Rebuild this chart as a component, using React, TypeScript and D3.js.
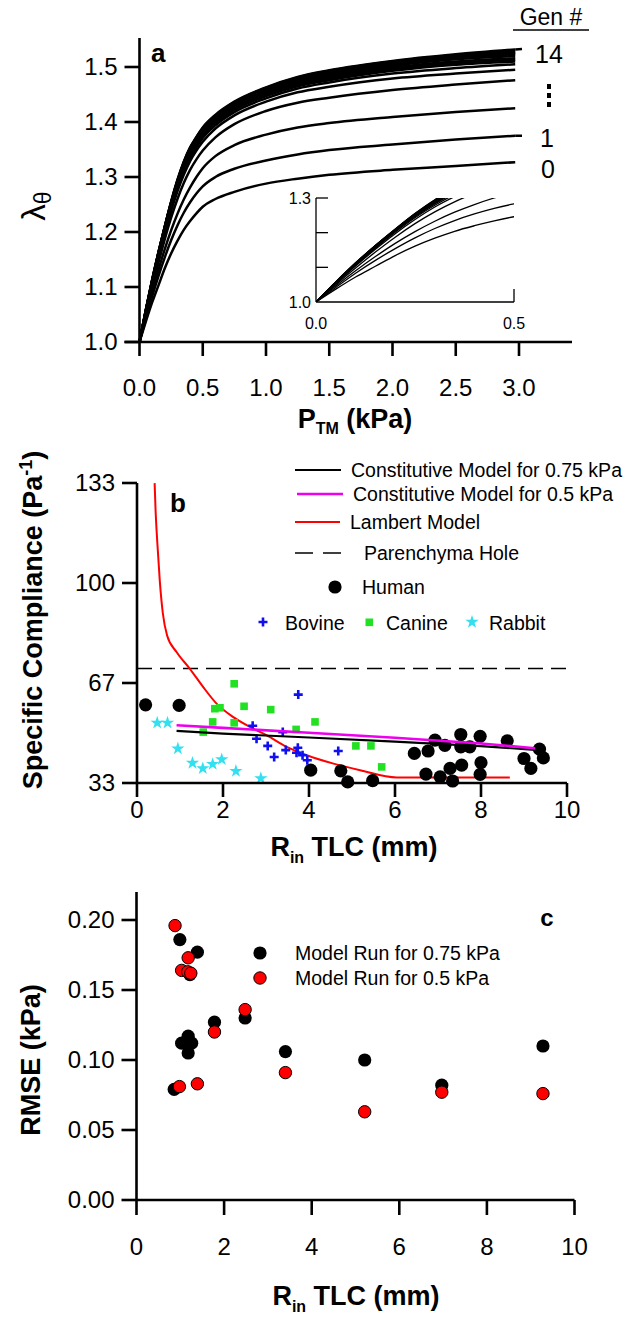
import React from 'react';
import * as d3 from 'd3';

const FONT = '"Liberation Sans", Arial, Helvetica, sans-serif';

// ---------- Panel a : lambda_theta vs P_TM for generations 0..14 ----------
const A_PTM = [0, 0.05, 0.1, 0.15, 0.2, 0.25, 0.3, 0.35, 0.4, 0.45, 0.5, 0.6, 0.75, 1.0, 1.25, 1.5, 2.0, 2.5, 2.97];
const GEN_0 = [1, 1.037, 1.072, 1.103, 1.134, 1.161, 1.184, 1.204, 1.22, 1.234, 1.246, 1.26, 1.273, 1.288, 1.297, 1.304, 1.313, 1.32, 1.327];
const GEN_1 = [1, 1.042, 1.083, 1.12, 1.154, 1.185, 1.212, 1.235, 1.254, 1.27, 1.283, 1.3, 1.315, 1.33, 1.341, 1.349, 1.359, 1.368, 1.375];
const GEN_2 = [1, 1.046, 1.09, 1.131, 1.169, 1.203, 1.233, 1.259, 1.281, 1.3, 1.316, 1.338, 1.358, 1.377, 1.39, 1.398, 1.409, 1.418, 1.425];
const GEN_3 = [1, 1.05, 1.098, 1.144, 1.187, 1.226, 1.26, 1.289, 1.313, 1.332, 1.348, 1.372, 1.396, 1.42, 1.435, 1.444, 1.458, 1.468, 1.476];
const GEN_4 = [1, 1.053, 1.104, 1.152, 1.197, 1.238, 1.274, 1.304, 1.329, 1.348, 1.364, 1.388, 1.412, 1.437, 1.454, 1.464, 1.479, 1.488, 1.495];
const GEN_5 = [1, 1.054, 1.106, 1.155, 1.201, 1.243, 1.279, 1.31, 1.335, 1.354, 1.371, 1.394, 1.418, 1.443, 1.461, 1.472, 1.488, 1.498, 1.505];
const GEN_6 = [1, 1.055, 1.108, 1.157, 1.204, 1.246, 1.283, 1.314, 1.339, 1.358, 1.375, 1.398, 1.422, 1.447, 1.465, 1.476, 1.493, 1.504, 1.51];
const GEN_7 = [1, 1.056, 1.109, 1.159, 1.206, 1.248, 1.285, 1.317, 1.342, 1.361, 1.378, 1.401, 1.425, 1.45, 1.468, 1.479, 1.496, 1.507, 1.513];
const GEN_8 = [1, 1.056, 1.11, 1.16, 1.207, 1.25, 1.287, 1.319, 1.345, 1.364, 1.381, 1.404, 1.428, 1.453, 1.471, 1.482, 1.499, 1.51, 1.516];
const GEN_9 = [1, 1.057, 1.111, 1.161, 1.208, 1.251, 1.289, 1.321, 1.347, 1.366, 1.383, 1.406, 1.43, 1.456, 1.474, 1.485, 1.502, 1.514, 1.52];
const GEN_10 = [1, 1.057, 1.111, 1.162, 1.209, 1.252, 1.291, 1.323, 1.349, 1.368, 1.385, 1.408, 1.432, 1.458, 1.477, 1.488, 1.505, 1.517, 1.523];
const GEN_11 = [1, 1.057, 1.112, 1.162, 1.209, 1.253, 1.292, 1.325, 1.351, 1.37, 1.387, 1.41, 1.434, 1.46, 1.479, 1.49, 1.507, 1.519, 1.525];
const GEN_12 = [1, 1.058, 1.112, 1.163, 1.21, 1.254, 1.293, 1.326, 1.352, 1.371, 1.388, 1.411, 1.435, 1.461, 1.48, 1.492, 1.509, 1.521, 1.527];
const GEN_13 = [1, 1.058, 1.113, 1.163, 1.21, 1.255, 1.294, 1.327, 1.353, 1.372, 1.389, 1.412, 1.436, 1.462, 1.481, 1.493, 1.51, 1.522, 1.529];
const GEN_14 = [1, 1.058, 1.113, 1.163, 1.21, 1.255, 1.295, 1.328, 1.354, 1.373, 1.39, 1.413, 1.437, 1.463, 1.482, 1.494, 1.511, 1.523, 1.532];
const GEN_CURVES = [GEN_0, GEN_1, GEN_2, GEN_3, GEN_4, GEN_5, GEN_6, GEN_7, GEN_8, GEN_9, GEN_10, GEN_11, GEN_12, GEN_13, GEN_14];
const A_X_TICKS = [0, 0.5, 1.0, 1.5, 2.0, 2.5, 3.0];
const A_Y_TICKS = [1.0, 1.1, 1.2, 1.3, 1.4, 1.5];
const INSET_Y_TICKS = [1.1, 1.2, 1.3];

// ---------- Panel b : specific compliance vs R_in TLC ----------
const LAMBERT_R = [0.41, 0.43, 0.47, 0.53, 0.6, 0.7, 0.92, 1.23, 1.54, 1.85, 2.24, 2.63, 3.02, 3.48, 3.95, 4.57, 5.19, 6.04, 8.67];
const LAMBERT_V = [133.3, 125, 114, 100.7, 90, 82.5, 77, 71.4, 65.3, 59.8, 55.3, 52, 49.2, 45.4, 42.6, 39.8, 37.6, 35.2, 35.2];
const CM075_R = [0.92, 2, 4, 6, 8, 9.26];
const CM075_V = [50.7, 49.8, 48.5, 47.1, 45.6, 44.4];
const CM05_R = [0.92, 2, 4, 6, 8, 9.26];
const CM05_V = [52.6, 51.7, 50.1, 48.4, 46.5, 44.9];
const HOLE_V = 71.5;
const HUMAN: [number, number][] = [
  [0.2, 59.4], [0.98, 59.2], [4.04, 37.6], [4.74, 37.4], [4.9, 33.7], [5.48, 34.1], [6.45, 43.2], [6.77, 44.0],
  [6.93, 47.6], [7.16, 45.9], [6.72, 36.3], [7.05, 35.4], [7.28, 38.2], [7.34, 34.0], [7.53, 49.5], [7.53, 45.4],
  [7.55, 39.3], [7.74, 45.4], [7.98, 48.9], [8.0, 40.1], [7.98, 36.2], [8.61, 47.4], [9.0, 41.5], [9.16, 38.2],
  [9.36, 44.6], [9.45, 41.7]
];
const BOVINE: [number, number][] = [
  [3.75, 62.8], [2.69, 52.4], [2.78, 48.1], [3.04, 45.7], [3.19, 42.0], [3.39, 50.3], [3.46, 44.3], [3.71, 43.4],
  [3.74, 45.1], [3.85, 42.6], [3.96, 40.9], [4.68, 44.0]
];
const CANINE: [number, number][] = [
  [2.26, 66.4], [1.81, 58.1], [1.93, 58.4], [2.49, 58.9], [3.11, 57.8], [1.76, 53.7], [2.26, 53.4], [1.54, 50.3],
  [3.7, 51.2], [4.14, 53.7], [5.09, 45.7], [5.44, 45.7], [5.69, 38.7]
];
const RABBIT: [number, number][] = [
  [0.47, 53.4], [0.71, 53.4], [0.95, 44.8], [1.29, 40.0], [1.53, 38.2], [1.76, 39.6], [1.97, 41.2], [2.3, 37.3], [2.88, 34.9]
];
const B_X_TICKS = [0, 2, 4, 6, 8, 10];
const B_Y_TICKS = [100 / 3, 200 / 3, 100, 400 / 3];
const B_Y_LABELS = ['33', '67', '100', '133'];

// ---------- Panel c : RMSE vs R_in TLC ----------
const RUN075: [number, number][] = [
  [0.86, 0.079], [0.99, 0.186], [1.39, 0.177], [1.22, 0.161], [1.03, 0.112], [1.18, 0.117], [1.26, 0.112], [1.18, 0.105],
  [1.78, 0.127], [2.48, 0.13], [3.4, 0.106], [5.21, 0.1], [6.97, 0.082], [9.28, 0.11]
];
const RUN05: [number, number][] = [
  [0.88, 0.196], [1.18, 0.173], [1.03, 0.164], [1.17, 0.163], [1.24, 0.162], [0.98, 0.081], [1.39, 0.083],
  [1.78, 0.12], [2.48, 0.136], [3.4, 0.091], [5.21, 0.063], [6.97, 0.077], [9.28, 0.076]
];
const C_X_TICKS = [0, 2, 4, 6, 8, 10];
const C_Y_TICKS = [0, 0.05, 0.1, 0.15, 0.2];

const TICK_FS = 24;
const LEG_FS = 19.5;
const AX_W = 2.6;

export default function App() {
  // ---- scales panel a
  const xA = d3.scaleLinear().domain([0, 3]).range([139.5, 519]);
  const yA = d3.scaleLinear().domain([1, 1.5]).range([342, 67]);
  const lineA = d3.line<[number, number]>().x(d => xA(d[0])).y(d => yA(d[1])).curve(d3.curveMonotoneX);
  const xI = d3.scaleLinear().domain([0, 0.5]).range([316, 514]);
  const yI = d3.scaleLinear().domain([1, 1.3]).range([302, 198]);
  const lineI = d3.line<[number, number]>().x(d => xI(d[0])).y(d => yI(d[1])).curve(d3.curveMonotoneX);

  // ---- scales panel b
  const xB = d3.scaleLinear().domain([0, 10]).range([137, 567]);
  const yB = d3.scaleLinear().domain([100 / 3, 400 / 3]).range([783, 483]);
  const lineB = d3.line<[number, number]>().x(d => xB(d[0])).y(d => yB(d[1]));
  const lineBc = d3.line<[number, number]>().x(d => xB(d[0])).y(d => yB(d[1])).curve(d3.curveMonotoneX);
  const star = d3.symbol().type(d3.symbolStar).size(55)();

  // ---- scales panel c
  const xC = d3.scaleLinear().domain([0, 10]).range([136.5, 574.5]);
  const yC = d3.scaleLinear().domain([0, 0.2]).range([1200, 920]);

  const zip = (a: number[], b: number[]) => a.map((v, i) => [v, b[i]] as [number, number]);
  const plus = (x: number, y: number, s: number) => `M${x - s},${y}H${x + s}M${x},${y - s}V${y + s}`;

  return (
    <svg width={630} height={1323} viewBox="0 0 630 1323"
      style={{ position: 'absolute', left: 0, top: 0, background: '#fff', fontFamily: FONT }}>
      <rect x={0} y={0} width={630} height={1323} fill="#fff" />

      {/* ================= Panel a ================= */}
      <g>
        <defs>
          <clipPath id="insetClip">
            <rect x={xI(0)} y={yI(1.3)} width={xI(0.5) - xI(0)} height={yI(1) - yI(1.3)} />
          </clipPath>
        </defs>
        {GEN_CURVES.map((g, i) => (
          <path key={i} d={lineA(zip(A_PTM, g)) || ''} fill="none" stroke="#000" strokeWidth={2.5} />
        ))}
        {/* leader dashes */}
        <line x1={xA(2.97)} x2={522} y1={yA(GEN_14[18])} y2={yA(GEN_14[18]) - 0.5} stroke="#000" strokeWidth={2.5} />
        <line x1={xA(2.97)} x2={522} y1={yA(GEN_1[18])} y2={yA(GEN_1[18])} stroke="#000" strokeWidth={2.5} />
        {/* axes */}
        <line x1={xA(0)} x2={xA(0)} y1={38} y2={yA(1)} stroke="#000" strokeWidth={AX_W} />
        <line x1={xA(0) - 15} x2={572} y1={yA(1)} y2={yA(1)} stroke="#000" strokeWidth={AX_W} />
        {A_Y_TICKS.map(t => (
          <g key={t}>
            <line x1={xA(0) - 15} x2={xA(0)} y1={yA(t)} y2={yA(t)} stroke="#000" strokeWidth={AX_W} />
            <text x={xA(0) - 22} y={yA(t)} dy="0.35em" textAnchor="end" fontSize={TICK_FS}>{t.toFixed(1)}</text>
          </g>
        ))}
        {A_X_TICKS.map(t => (
          <g key={t}>
            <line x1={xA(t)} x2={xA(t)} y1={yA(1)} y2={yA(1) + 14} stroke="#000" strokeWidth={AX_W} />
            <text x={xA(t)} y={396} textAnchor="middle" fontSize={TICK_FS}>{t.toFixed(1)}</text>
          </g>
        ))}
        <text x={355} y={428} textAnchor="middle" fontSize={27} fontWeight="bold">
          <tspan>P</tspan><tspan fontSize={16} dy={6}>TM</tspan><tspan dy={-6}> (kPa)</tspan>
        </text>
        <text transform="translate(45,206) rotate(-90)" textAnchor="middle" fontSize={33}>
          <tspan>λ</tspan><tspan fontSize={23} dy={6}>θ</tspan>
        </text>
        <text x={151} y={62} fontSize={26} fontWeight="bold">a</text>
        {/* generation labels */}
        <text x={551} y={25} textAnchor="middle" fontSize={23}>Gen #</text>
        <line x1={513} x2={589} y1={30} y2={30} stroke="#000" strokeWidth={1.5} />
        <text x={549} y={63} textAnchor="middle" fontSize={25}>14</text>
        {[84, 93, 102].map(y => <rect key={y} x={547} y={y} width={4} height={5} fill="#000" />)}
        <text x={547} y={147} textAnchor="middle" fontSize={25}>1</text>
        <text x={548} y={178} textAnchor="middle" fontSize={25}>0</text>

        {/* inset */}
        <g clipPath="url(#insetClip)">
          {GEN_CURVES.map((g, i) => (
            <path key={i} d={lineI(zip(A_PTM, g).filter(d => d[0] <= 0.6)) || ''} fill="none" stroke="#000" strokeWidth={1.3} />
          ))}
        </g>
        <line x1={xI(0)} x2={xI(0)} y1={yI(1.3)} y2={yI(1)} stroke="#000" strokeWidth={1.3} />
        <line x1={xI(0)} x2={xI(0.5)} y1={yI(1)} y2={yI(1)} stroke="#000" strokeWidth={1.3} />
        {INSET_Y_TICKS.map(t => (
          <line key={t} x1={xI(0)} x2={xI(0) + 12} y1={yI(t)} y2={yI(t)} stroke="#000" strokeWidth={1.3} />
        ))}
        <line x1={xI(0.5)} x2={xI(0.5)} y1={yI(1)} y2={yI(1) - 13} stroke="#000" strokeWidth={1.3} />
        <text x={xI(0) - 5} y={yI(1.3)} dy="0.35em" textAnchor="end" fontSize={16}>1.3</text>
        <text x={xI(0) - 5} y={yI(1.0)} dy="0.35em" textAnchor="end" fontSize={16}>1.0</text>
        <text x={xI(0)} y={329} textAnchor="middle" fontSize={16}>0.0</text>
        <text x={xI(0.5)} y={329} textAnchor="middle" fontSize={16}>0.5</text>
      </g>

      {/* ================= Panel b ================= */}
      <g>
        <line x1={xB(0)} x2={xB(10)} y1={yB(HOLE_V)} y2={yB(HOLE_V)} stroke="#000" strokeWidth={1.3} strokeDasharray="15,8" />
        <path d={lineBc(zip(LAMBERT_R, LAMBERT_V)) || ''} fill="none" stroke="#ff0000" strokeWidth={2} />
        {HUMAN.map((d, i) => <circle key={i} cx={xB(d[0])} cy={yB(d[1])} r={6.6} fill="#000" />)}
        {CANINE.map((d, i) => <rect key={i} x={xB(d[0]) - 3.8} y={yB(d[1]) - 3.8} width={7.6} height={7.6} fill="#22e022" />)}
        {BOVINE.map((d, i) => <path key={i} d={plus(xB(d[0]), yB(d[1]), 4.5)} stroke="#1010ee" strokeWidth={2.6} fill="none" />)}
        {RABBIT.map((d, i) => <path key={i} d={star || ''} transform={`translate(${xB(d[0])},${yB(d[1])})`} fill="#33e0f0" />)}
        <path d={lineB(zip(CM075_R, CM075_V)) || ''} fill="none" stroke="#000" strokeWidth={2.2} />
        <path d={lineB(zip(CM05_R, CM05_V)) || ''} fill="none" stroke="#ee00ee" strokeWidth={2.6} />
        {/* axes */}
        <line x1={xB(0)} x2={xB(0)} y1={yB(400 / 3)} y2={yB(100 / 3)} stroke="#000" strokeWidth={AX_W} />
        <line x1={xB(0)} x2={xB(10)} y1={yB(100 / 3)} y2={yB(100 / 3)} stroke="#000" strokeWidth={AX_W} />
        {B_Y_TICKS.map((t, i) => (
          <g key={i}>
            <line x1={xB(0) - 15} x2={xB(0)} y1={yB(t)} y2={yB(t)} stroke="#000" strokeWidth={AX_W} />
            <text x={xB(0) - 22} y={yB(t)} dy="0.35em" textAnchor="end" fontSize={TICK_FS}>{B_Y_LABELS[i]}</text>
          </g>
        ))}
        {B_X_TICKS.map(t => (
          <g key={t}>
            <line x1={xB(t)} x2={xB(t)} y1={yB(100 / 3)} y2={yB(100 / 3) + 14} stroke="#000" strokeWidth={AX_W} />
            <text x={xB(t)} y={818} textAnchor="middle" fontSize={TICK_FS}>{t}</text>
          </g>
        ))}
        <text x={354} y={856} textAnchor="middle" fontSize={27} fontWeight="bold">
          <tspan>R</tspan><tspan fontSize={16} dy={7}>in</tspan><tspan dy={-7}> TLC (mm)</tspan>
        </text>
        <text transform="translate(42,620) rotate(-90)" textAnchor="middle" fontSize={27} fontWeight="bold">
          <tspan>Specific Compliance (Pa</tspan><tspan fontSize={18} dy={-10}>-1</tspan><tspan dy={10}>)</tspan>
        </text>
        <text x={170} y={512} fontSize={26} fontWeight="bold">b</text>
        {/* legend */}
        <line x1={295} x2={341} y1={470} y2={470} stroke="#000" strokeWidth={2.2} />
        <text x={351} y={470} dy="0.35em" fontSize={LEG_FS}>Constitutive Model for 0.75 kPa</text>
        <line x1={297} x2={343} y1={494} y2={494} stroke="#ee00ee" strokeWidth={2.6} />
        <text x={353} y={494} dy="0.35em" fontSize={LEG_FS}>Constitutive Model for 0.5 kPa</text>
        <line x1={295} x2={340} y1={522} y2={522} stroke="#ff0000" strokeWidth={2} />
        <text x={350} y={522} dy="0.35em" fontSize={LEG_FS}>Lambert Model</text>
        <line x1={295} x2={343} y1={553} y2={553} stroke="#000" strokeWidth={1.3} strokeDasharray="18,10" />
        <text x={364} y={553} dy="0.35em" fontSize={LEG_FS}>Parenchyma Hole</text>
        <circle cx={335} cy={587} r={6.6} fill="#000" />
        <text x={362} y={587} dy="0.35em" fontSize={LEG_FS}>Human</text>
        <path d={plus(263, 622, 4.5)} stroke="#1010ee" strokeWidth={2.6} fill="none" />
        <text x={285} y={623} dy="0.35em" fontSize={LEG_FS}>Bovine</text>
        <rect x={365.5} y={618.5} width={7.6} height={7.6} fill="#22e022" />
        <text x={386} y={623} dy="0.35em" fontSize={LEG_FS}>Canine</text>
        <path d={star || ''} transform="translate(472,622)" fill="#33e0f0" />
        <text x={489} y={623} dy="0.35em" fontSize={LEG_FS}>Rabbit</text>
      </g>

      {/* ================= Panel c ================= */}
      <g>
        {RUN075.map((d, i) => <circle key={i} cx={xC(d[0])} cy={yC(d[1])} r={6.6} fill="#000" />)}
        {RUN05.map((d, i) => <circle key={i} cx={xC(d[0])} cy={yC(d[1])} r={6.2} fill="#ff0000" stroke="#000" strokeWidth={1} />)}
        <line x1={xC(0)} x2={xC(0)} y1={892} y2={yC(0)} stroke="#000" strokeWidth={AX_W} />
        <line x1={xC(0)} x2={xC(10)} y1={yC(0)} y2={yC(0)} stroke="#000" strokeWidth={AX_W} />
        {C_Y_TICKS.map(t => (
          <g key={t}>
            <line x1={xC(0) - 15} x2={xC(0)} y1={yC(t)} y2={yC(t)} stroke="#000" strokeWidth={AX_W} />
            <text x={xC(0) - 22} y={yC(t)} dy="0.35em" textAnchor="end" fontSize={TICK_FS}>{t.toFixed(2)}</text>
          </g>
        ))}
        {C_X_TICKS.map(t => (
          <g key={t}>
            <line x1={xC(t)} x2={xC(t)} y1={yC(0)} y2={yC(0) + 15} stroke="#000" strokeWidth={AX_W} />
            <text x={xC(t)} y={1255} textAnchor="middle" fontSize={TICK_FS}>{t}</text>
          </g>
        ))}
        <text x={356} y={1305} textAnchor="middle" fontSize={27} fontWeight="bold">
          <tspan>R</tspan><tspan fontSize={16} dy={7}>in</tspan><tspan dy={-7}> TLC (mm)</tspan>
        </text>
        <text transform="translate(40,1060) rotate(-90)" textAnchor="middle" fontSize={27} fontWeight="bold">RMSE (kPa)</text>
        <text x={547} y={926} textAnchor="middle" fontSize={24} fontWeight="bold">c</text>
        <circle cx={260} cy={953} r={6.6} fill="#000" />
        <text x={295} y={953} dy="0.35em" fontSize={LEG_FS}>Model Run for 0.75 kPa</text>
        <circle cx={260} cy={978} r={6.2} fill="#ff0000" stroke="#000" strokeWidth={1} />
        <text x={295} y={978} dy="0.35em" fontSize={LEG_FS}>Model Run for 0.5 kPa</text>
      </g>
    </svg>
  );
}
